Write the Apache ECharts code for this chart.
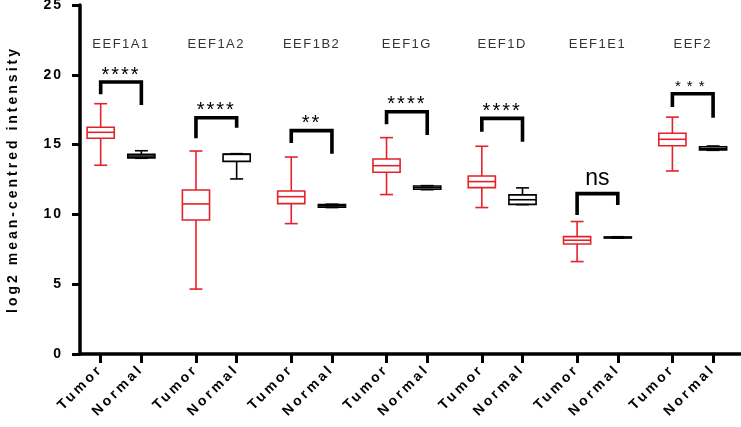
<!DOCTYPE html>
<html>
<head>
<meta charset="utf-8">
<script src="https://cdn.jsdelivr.net/npm/echarts@6/dist/echarts.min.js"></script>
<style>html,body{margin:0;padding:0;background:#fff}#c{width:741px;height:427px}</style>
</head>
<body>
<div id="c"></div>
<script>
// ---- data ----
const genes = ['EEF1A1', 'EEF1A2', 'EEF1B2', 'EEF1G', 'EEF1D', 'EEF1E1', 'EEF2'];
const groupLabels = ['Tumor', 'Normal'];
// [min, Q1, median, Q3, max]
const tumor = [
  [13.52, 15.45, 15.88, 16.24, 17.93],
  [4.65, 9.6, 10.75, 11.75, 14.54],
  [9.34, 10.77, 11.27, 11.68, 14.11],
  [11.42, 13.02, 13.49, 13.97, 15.5],
  [10.49, 11.92, 12.35, 12.75, 14.88],
  [6.62, 7.88, 8.15, 8.41, 9.49],
  [13.11, 14.92, 15.38, 15.81, 16.97]
];
const normal = [
  [14.02, 14.05, 14.18, 14.3, 14.56],
  [12.54, 13.8, 14.3, 14.33, 14.35],
  [10.49, 10.52, 10.62, 10.7, 10.73],
  [11.77, 11.8, 11.92, 12.03, 12.06],
  [10.7, 10.72, 11.05, 11.4, 11.9],
  [8.3, 8.31, 8.35, 8.38, 8.4],
  [14.59, 14.62, 14.72, 14.85, 14.9]
];
const significance = ['****', '****', '**', '****', '****', 'ns', '***'];
const bracketTop = [19.48, 16.92, 16.0, 17.35, 16.88, 11.49, 18.64];
const bracketLeftEnd = [18.6, 15.45, 15.11, 16.45, 15.92, 9.96, 17.69];
const bracketRightEnd = [17.83, 16.2, 14.35, 15.69, 15.21, 10.68, 16.93];
const geneLabelLevel = 22.2;
const yTicks = [0, 5, 10, 15, 20, 25];

// ---- letter spacing support (font family marker "lspN") ----
(function () {
  const proto = CanvasRenderingContext2D.prototype;
  ['fillText', 'strokeText'].forEach(fn => {
    const orig = proto[fn];
    proto[fn] = function () {
      const m = /lsp(\d+(?:_\d+)?)/.exec(this.font);
      try { this.letterSpacing = m ? m[1].replace('_', '.') + 'px' : '0px'; } catch (e) {}
      return orig.apply(this, arguments);
    };
  });
})();

// ---- layout constants ----
const NORMAL_OFFSET = 0.427;
const BOX_W = 0.285;
const CAP_W = 0.136;
const RED = '#e4222a';

const tumorData = tumor.map((v, i) => [i, ...v]);
const normalData = normal.map((v, i) => [i + NORMAL_OFFSET, ...v]);
const bracketData = genes.map((g, i) => [i, i + NORMAL_OFFSET, bracketLeftEnd[i], bracketTop[i], bracketRightEnd[i]]);
const geneData = genes.map((g, i) => [i + NORMAL_OFFSET / 2, geneLabelLevel]);
const tickPositions = [];
genes.forEach((g, i) => { tickPositions.push(i, i + NORMAL_OFFSET); });

function boxRenderer(color) {
  return function (params, api) {
    const x = api.value(0);
    const px = api.coord([x, 0])[0];
    const yMin = api.coord([x, api.value(1)])[1];
    const yQ1 = api.coord([x, api.value(2)])[1];
    const yMed = api.coord([x, api.value(3)])[1];
    const yQ3 = api.coord([x, api.value(4)])[1];
    const yMax = api.coord([x, api.value(5)])[1];
    const hw = api.size([BOX_W, 0])[0] / 2;
    const cw = api.size([CAP_W, 0])[0] / 2;
    const st = { stroke: color, lineWidth: 1.6, fill: null };
    return {
      type: 'group',
      children: [
        { type: 'line', shape: { x1: px, y1: yMax, x2: px, y2: yQ3 }, style: st },
        { type: 'line', shape: { x1: px, y1: yQ1, x2: px, y2: yMin }, style: st },
        { type: 'line', shape: { x1: px - cw, y1: yMax, x2: px + cw, y2: yMax }, style: st },
        { type: 'line', shape: { x1: px - cw, y1: yMin, x2: px + cw, y2: yMin }, style: st },
        { type: 'rect', shape: { x: px - hw, y: yQ3, width: 2 * hw, height: yQ1 - yQ3 }, style: { stroke: color, lineWidth: 1.6, fill: 'rgba(0,0,0,0)' } },
        { type: 'line', shape: { x1: px - hw, y1: yMed, x2: px + hw, y2: yMed }, style: st }
      ]
    };
  };
}

const chart = echarts.init(document.getElementById('c'), null, { renderer: 'canvas' });
chart.setOption({
  animation: false,
  backgroundColor: '#fff',
  grid: { left: 80, right: 0, top: 5, bottom: 73, containLabel: false, outerBoundsMode: 'none' },
  xAxis: {
    type: 'value', min: -0.217, max: 6.72,
    splitLine: { show: false },
    axisLine: { onZero: false, lineStyle: { color: '#000', width: 3.5 } },
    axisTick: { customValues: tickPositions, length: 9, lineStyle: { color: '#000', width: 3 } },
    axisLabel: {
      customValues: tickPositions,
      rotate: 45, margin: 13,
      color: '#000', fontWeight: 'bold', fontSize: 14,
      fontFamily: "'Liberation Sans', lsp3",
      formatter: v => (Math.abs(v - Math.round(v)) < 0.01 ? groupLabels[0] : groupLabels[1])
    }
  },
  yAxis: {
    type: 'value', min: 0, max: 25, interval: 5,
    name: 'log2 mean-centred intensity',
    nameLocation: 'middle', nameGap: 60,
    nameTextStyle: { color: '#000', fontWeight: 'bold', fontSize: 14, fontFamily: "'Liberation Sans', lsp3" },
    splitLine: { show: false },
    axisLine: { show: true, onZero: false, lineStyle: { color: '#000', width: 3.5 } },
    axisTick: { show: true, length: 8, lineStyle: { color: '#000', width: 3 } },
    axisLabel: {
      margin: 17, color: '#000', fontWeight: 'bold', fontSize: 14,
      fontFamily: "'Liberation Sans', lsp2",
      formatter: v => (yTicks.includes(v) ? String(v) : '')
    }
  },
  series: [
    { type: 'custom', name: 'Tumor', data: tumorData, renderItem: boxRenderer(RED), clip: false },
    { type: 'custom', name: 'Normal', data: normalData, renderItem: boxRenderer('#000'), clip: false },
    {
      type: 'custom', name: 'brackets', data: bracketData, clip: false,
      renderItem: function (params, api) {
        const i = params.dataIndex;
        const xl = api.coord([api.value(0), 0])[0];
        const xr = api.coord([api.value(1), 0])[0];
        const yl = api.coord([0, api.value(2)])[1];
        const yt = api.coord([0, api.value(3)])[1];
        const yr = api.coord([0, api.value(4)])[1];
        const s = significance[i];
        let font, dy;
        if (s === 'ns') { font = "normal 23px 'Liberation Sans'"; dy = -3; }
        else if (s === '***') { font = "normal 15px 'Liberation Sans', lsp6"; dy = 1; }
        else { font = "normal 20px 'Liberation Sans', lsp2"; dy = 3; }
        return {
          type: 'group',
          children: [
            { type: 'polyline', shape: { points: [[xl, yl], [xl, yt], [xr, yt], [xr, yr]] },
              style: { stroke: '#000', lineWidth: 3.6, fill: null, lineJoin: 'miter', lineCap: 'butt' } },
            { type: 'text', x: (xl + xr) / 2, y: yt + dy,
              style: { text: s, font: font, fill: '#000', align: 'center', verticalAlign: 'bottom' } }
          ]
        };
      }
    },
    {
      type: 'custom', name: 'genes', data: geneData, clip: false,
      renderItem: function (params, api) {
        const p = api.coord([api.value(0), api.value(1)]);
        return { type: 'text', x: p[0], y: p[1],
          style: { text: genes[params.dataIndex], font: "normal 13px 'Liberation Sans', lsp1_5", fill: '#333', align: 'center', verticalAlign: 'middle' } };
      }
    }
  ]
});
</script>
</body>
</html>
